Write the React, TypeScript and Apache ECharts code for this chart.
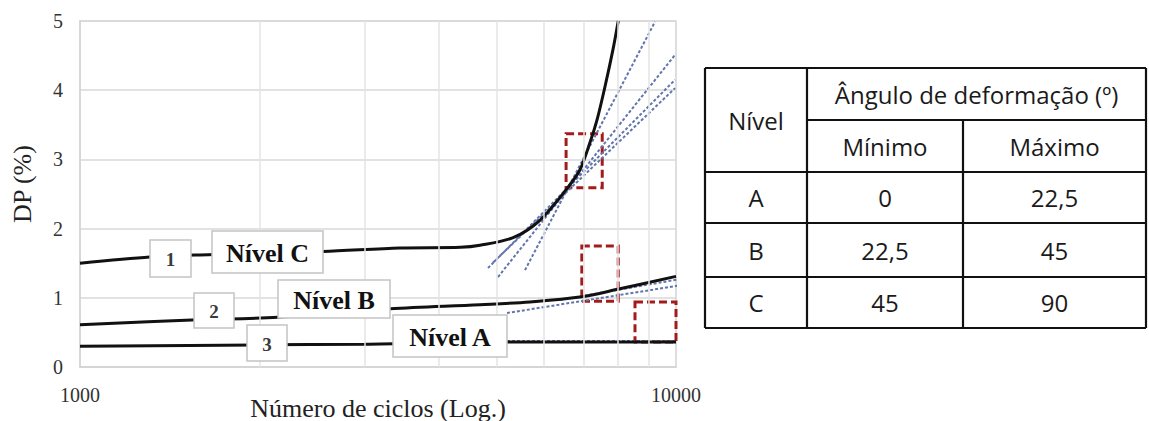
import React, { useEffect, useRef } from "react";
import * as echarts from "echarts";

// ---- data ----
const curveC: [number, number][] = [
  [1000, 1.5], [1310, 1.59], [1590, 1.62], [2560, 1.67], [3440, 1.72], [4350, 1.73],
  [4690, 1.76], [5330, 1.87], [5910, 2.12], [6590, 2.6], [6900, 2.85], [7170, 3.24],
  [7370, 3.57], [7600, 4.05], [7840, 4.59], [8000, 5.0],
];
const curveB: [number, number][] = [
  [1000, 0.61], [1540, 0.68], [2150, 0.72], [3310, 0.84], [4690, 0.9], [5690, 0.94],
  [6900, 1.01], [8050, 1.13], [10000, 1.31],
];
const curveA: [number, number][] = [
  [1000, 0.3], [2000, 0.32], [3000, 0.33], [5000, 0.36], [7000, 0.36], [10000, 0.36],
];
const tangents: [number, number][][] = [
  [[5580, 1.4], [9222, 4.99]],
  [[5027, 1.3], [9962, 4.51]],
  [[4837, 1.43], [9962, 4.15]],
  [[4932, 1.51], [9962, 4.03]],
  [[5205, 0.78], [10155, 1.18]],
  [[6389, 0.97], [10155, 1.27]],
  [[5008, 0.376], [9962, 0.376]],
];
const boxes: [[number, number], [number, number]][] = [
  [[6540, 3.37], [7520, 2.59]],
  [[6950, 1.75], [8000, 0.95]],
  [[8535, 0.94], [10000, 0.36]],
];
const minorTicks = [2000, 3000, 4000, 5000, 6000, 7000, 8000, 9000];
const curveLabels = ["1", "2", "3"];
const levelLabels = ["Nível C", "Nível B", "Nível A"];
const tableHeader = ["Nível", "Ângulo de deformação (º)", "Mínimo", "Máximo"];
const tableLevels = ["A", "B", "C"];
const tableMin = ["0", "22,5", "45"];
const tableMax = ["22,5", "45", "90"];
const xTitle = "Número de ciclos (Log.)";
const yTitle = "DP (%)";

const SERIF = '"Liberation Serif", "Times New Roman", serif';
const SANS = '"Open Sans", "Noto Sans", sans-serif';

function labelBox(cx: number, cy: number, w: number, h: number, text: string, bold: boolean) {
  return {
    type: "group",
    z: 100,
    children: [
      {
        type: "rect",
        z: 100,
        shape: { x: cx - w / 2, y: cy - h / 2, width: w, height: h },
        style: { fill: "#ffffff", stroke: "#c4c4c4", lineWidth: 1.5 },
      },
      {
        type: "text",
        z: 101,
        x: cx,
        y: cy + 1,
        style: {
          text,
          font: bold ? `bold 26px ${SERIF}` : `bold 19px ${SERIF}`,
          fill: bold ? "#111111" : "#3a3a3a",
          align: "center",
          verticalAlign: "middle",
        },
      },
    ],
  };
}

function tableGraphics() {
  const L = 705, C1 = 807, C2 = 963, R = 1146;
  const rows = [68, 120, 172, 223, 277, 328];
  const lw = 2.2;
  const line = (x1: number, y1: number, x2: number, y2: number) => ({
    type: "line",
    z: 100,
    shape: { x1, y1, x2, y2 },
    style: { stroke: "#111111", lineWidth: lw },
  });
  const txt = (x: number, y: number, text: string) => ({
    type: "text",
    z: 101,
    x,
    y,
    style: { text, font: `24px ${SANS}`, fill: "#1a1a1a", align: "center", verticalAlign: "middle" },
  });
  const els: any[] = [];
  els.push(line(L, rows[0], R, rows[0]));
  els.push(line(C1, rows[1], R, rows[1]));
  for (let i = 2; i < rows.length; i++) els.push(line(L, rows[i], R, rows[i]));
  els.push(line(L, rows[0], L, rows[5]));
  els.push(line(C1, rows[0], C1, rows[5]));
  els.push(line(C2, rows[1], C2, rows[5]));
  els.push(line(R, rows[0], R, rows[5]));
  const m1 = (L + C1) / 2, m2 = (C1 + C2) / 2, m3 = (C2 + R) / 2;
  els.push(txt(m1, (rows[0] + rows[2]) / 2, tableHeader[0]));
  els.push(txt((C1 + R) / 2, (rows[0] + rows[1]) / 2, tableHeader[1]));
  els.push(txt(m2, (rows[1] + rows[2]) / 2, tableHeader[2]));
  els.push(txt(m3, (rows[1] + rows[2]) / 2, tableHeader[3]));
  for (let i = 0; i < 3; i++) {
    const cy = (rows[2 + i] + rows[3 + i]) / 2;
    els.push(txt(m1, cy, tableLevels[i]));
    els.push(txt(m2, cy, tableMin[i]));
    els.push(txt(m3, cy, tableMax[i]));
  }
  return els;
}

export default function App() {
  const ref = useRef<HTMLDivElement>(null);
  useEffect(() => {
    document.body.style.margin = "0";
    const chart = echarts.init(ref.current!, null, { renderer: "svg" });
    const curveStyle = { color: "#111111", width: 3 };
    const series: any[] = [
      {
        type: "line",
        data: [],
        z: 1,
        silent: true,
        markLine: {
          silent: true,
          symbol: "none",
          label: { show: false },
          lineStyle: { color: "#e4e4e4", width: 1.5, type: "solid" },
          data: minorTicks.map((v) => ({ xAxis: v })),
        },
      },
      ...tangents.map((t) => ({
        type: "line",
        data: t,
        z: 3,
        clip: false,
        showSymbol: false,
        symbol: "none",
        lineStyle: { color: "#6276ad", width: 2, type: [3, 2] },
      })),
      { type: "line", data: curveC, z: 4, smooth: 0.3, symbol: "none", lineStyle: curveStyle },
      { type: "line", data: curveB, z: 4, smooth: 0.35, symbol: "none", lineStyle: curveStyle },
      {
        type: "line",
        data: curveA,
        z: 4,
        smooth: 0.35,
        symbol: "none",
        lineStyle: curveStyle,
        markArea: {
          silent: true,
          itemStyle: { color: "rgba(0,0,0,0)", borderColor: "#a31c1c", borderWidth: 3, borderType: [8, 4] },
          label: { show: false },
          data: boxes.map((b) => [{ coord: b[0] }, { coord: b[1] }]),
        },
      },
    ];
    chart.setOption({
      animation: false,
      grid: {
        left: 80, right: 473, top: 21, bottom: 54,
        outerBoundsMode: "none",
        containLabel: false,
        show: true, borderColor: "#d4d4d4", borderWidth: 1.5, backgroundColor: "transparent",
      },
      xAxis: {
        type: "log",
        logBase: 10,
        min: 1000,
        max: 10000,
        axisLine: { lineStyle: { color: "#d4d4d4", width: 1.5 } },
        axisTick: { show: false },
        splitLine: { show: false },
        axisLabel: {
          formatter: (v: number) => String(Math.round(v)),
          fontFamily: SERIF,
          fontSize: 20,
          color: "#333333",
          margin: 18,
          showMinLabel: true,
          showMaxLabel: true,
        },
      },
      yAxis: {
        type: "value",
        min: 0,
        max: 5,
        interval: 1,
        axisLine: { show: true, lineStyle: { color: "#d4d4d4", width: 1.5 } },
        axisTick: { show: false },
        splitLine: { lineStyle: { color: "#d9d9d9", width: 1.5 } },
        axisLabel: { fontFamily: SERIF, fontSize: 20, color: "#333333", margin: 17 },
      },
      series,
      graphic: [
        {
          type: "text",
          z: 100,
          x: 22,
          y: 184,
          rotation: Math.PI / 2,
          style: { text: yTitle, font: `26px ${SERIF}`, fill: "#222222", align: "center", verticalAlign: "middle" },
        },
        {
          type: "text",
          z: 100,
          x: 378,
          y: 408,
          style: { text: xTitle, font: `26px ${SERIF}`, fill: "#222222", align: "center", verticalAlign: "middle" },
        },
        labelBox(170.5, 258.5, 41, 37, curveLabels[0], false),
        labelBox(267.5, 252, 111, 42, levelLabels[0], true),
        labelBox(214, 310.5, 40, 35, curveLabels[1], false),
        labelBox(334, 299, 112, 38, levelLabels[1], true),
        labelBox(267, 343, 40, 36, curveLabels[2], false),
        labelBox(450, 336, 114, 42, levelLabels[2], true),
        ...tableGraphics(),
      ],
    });
    return () => chart.dispose();
  }, []);
  return <div ref={ref} style={{ width: 1149, height: 421 }} />;
}
